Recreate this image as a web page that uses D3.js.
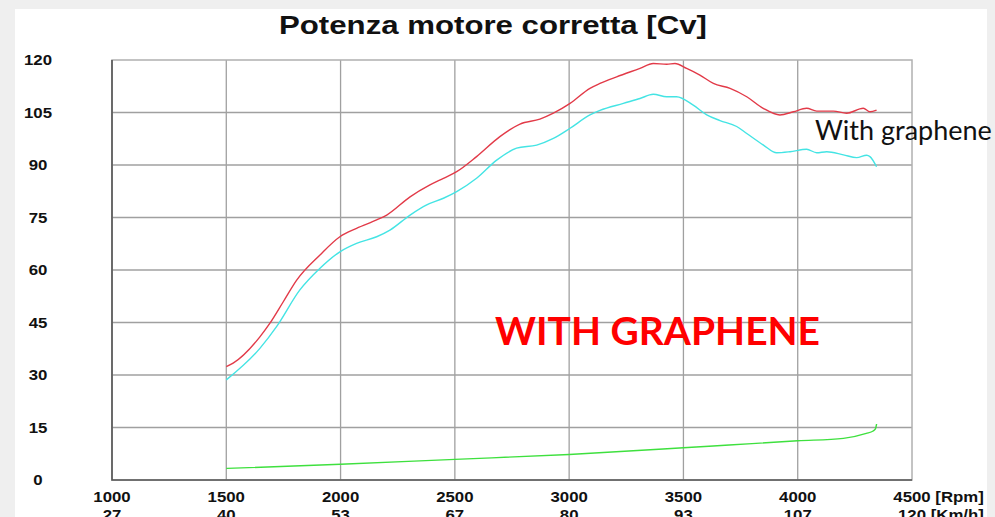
<!DOCTYPE html>
<html>
<head>
<meta charset="utf-8">
<script src="https://cdn.jsdelivr.net/npm/d3@7"></script>
<style>
  body { margin: 0; background: #efefef; }
  svg { display: block; }
</style>
</head>
<body>
<div class="chart"></div>
<script>
var rpmTicks = [1000, 1500, 2000, 2500, 3000, 3500, 4000, 4500];
var kmhTicks = [27, 40, 53, 67, 80, 93, 107, 120];
var cvTicks = [0, 15, 30, 45, 60, 75, 90, 105, 120];

// red curve (with graphene)
var redRpm = [1500, 1530, 1647, 1691, 1750, 1808, 1910, 1997, 2070, 2158, 2202, 2304, 2391, 2450, 2508, 2595, 2697, 2785, 2872, 2931, 3004, 3091, 3135, 3208, 3310, 3368, 3427, 3463, 3514, 3572, 3631, 3704, 3777, 3849, 3922, 3981, 4039, 4083, 4156, 4214, 4287, 4316, 4345];
var redCv = [32.4, 33.4, 40.9, 44.8, 51.0, 57.1, 64.3, 69.5, 71.9, 74.3, 75.7, 80.9, 84.3, 86.2, 88.1, 92.4, 98.1, 101.7, 103.1, 104.8, 107.6, 111.9, 113.3, 115.2, 117.6, 119.0, 118.8, 119.0, 117.6, 115.7, 113.3, 111.9, 109.5, 106.2, 104.3, 105.2, 106.2, 105.4, 105.4, 104.8, 106.2, 105.2, 105.7];

// cyan curve
var cyanRpm = [1500, 1647, 1720, 1822, 1910, 1997, 2070, 2158, 2216, 2304, 2377, 2450, 2508, 2595, 2683, 2770, 2858, 2931, 3004, 3091, 3135, 3237, 3310, 3368, 3427, 3470, 3543, 3602, 3660, 3733, 3777, 3850, 3908, 3966, 4039, 4083, 4127, 4200, 4258, 4302, 4316, 4345];
var cyanCv = [28.6, 37.6, 43.8, 54.3, 60.5, 65.2, 67.6, 69.5, 71.4, 75.7, 78.6, 80.5, 82.4, 86.2, 91.4, 94.8, 95.7, 97.6, 100.5, 104.3, 105.6, 107.6, 109.0, 110.2, 109.5, 109.5, 107.1, 104.3, 102.7, 101.0, 99.0, 95.7, 93.5, 93.8, 94.5, 93.5, 93.8, 92.9, 92.1, 92.8, 92.4, 89.5];

// green curve (losses)
var greenRpm = [1500, 2000, 2500, 3000, 3500, 3700, 4000, 4200, 4300, 4330, 4340, 4345];
var greenCv = [3.3, 4.5, 5.9, 7.3, 9.2, 10.0, 11.2, 11.9, 13.3, 14.0, 14.6, 16.0];

var width = 995, height = 517;

var svg = d3.select("div.chart").append("svg")
  .attr("width", width)
  .attr("height", height);

// slide panel
svg.append("rect")
  .attr("x", 15).attr("y", 9)
  .attr("width", 972).attr("height", height - 9)
  .attr("fill", "#fff");

var x = d3.scaleLinear().domain([1000, 4500]).range([112, 912]);
var y = d3.scaleLinear().domain([0, 120]).range([480, 60]);

var grid = svg.append("g").style("stroke", "#a0a0a0").style("stroke-width", 1.3);
grid.selectAll("line.v")
  .data(rpmTicks.slice(1, -1))
  .enter().append("line")
  .attr("x1", d => x(d)).attr("x2", d => x(d))
  .attr("y1", y(0)).attr("y2", y(120));
grid.selectAll("line.h")
  .data(cvTicks.slice(1, -1))
  .enter().append("line")
  .attr("x1", x(1000)).attr("x2", x(4500))
  .attr("y1", d => y(d)).attr("y2", d => y(d));

// frame: top/right light, left/bottom dark
svg.append("rect")
  .attr("x", x(1000)).attr("y", y(120))
  .attr("width", x(4500) - x(1000)).attr("height", y(0) - y(120))
  .attr("fill", "none").attr("stroke", "#b0b0b0").attr("stroke-width", 1.5);
svg.append("path")
  .attr("d", "M" + x(1000) + "," + y(120) + "V" + y(0) + "H" + x(4500))
  .attr("fill", "none").attr("stroke", "#555").attr("stroke-width", 1.6);

function curve(xs, ys) {
  return d3.line()
    .x(function(d, i) { return x(xs[i]); })
    .y(function(d, i) { return y(ys[i]); })
    .curve(d3.curveMonotoneX)(ys);
}

svg.append("path").attr("d", curve(greenRpm, greenCv))
  .attr("fill", "none").attr("stroke", "#3ee03e").attr("stroke-width", 1.4);
svg.append("path").attr("d", curve(cyanRpm, cyanCv))
  .attr("fill", "none").attr("stroke", "#44e4e4").attr("stroke-width", 1.4);
svg.append("path").attr("d", curve(redRpm, redCv))
  .attr("fill", "none").attr("stroke", "#e23a48").attr("stroke-width", 1.4);

// labels use a horizontally stretched Arial like the original
var sx = 1.2;
function stretched(g, px, py, txt, anchor) {
  return g.append("text")
    .attr("transform", "translate(" + px + "," + py + ") scale(" + sx + ",1)")
    .attr("text-anchor", anchor || "middle")
    .text(txt);
}

var labels = svg.append("g")
  .style("font-family", "'Liberation Sans', Arial, sans-serif")
  .style("font-weight", "bold")
  .style("font-size", "14px")
  .style("fill", "#111");

cvTicks.forEach(function(v) { stretched(labels, 38, y(v) + 5, v); });

// second row is cut by the bottom edge, as in the original screenshot
rpmTicks.forEach(function(v, i) {
  if (i < rpmTicks.length - 1) {
    stretched(labels, x(v), 502, v);
    stretched(labels, x(v), 520, kmhTicks[i]);
  } else {
    var t = stretched(labels, x(v), 502, v);
    var w = t.node().getComputedTextLength() * sx;
    t.remove();
    stretched(labels, x(v) - w / 2, 502, v + " [Rpm]", "start");
    var t2 = stretched(labels, x(v), 520, kmhTicks[i]);
    var w2 = t2.node().getComputedTextLength() * sx;
    t2.remove();
    stretched(labels, x(v) - w2 / 2, 520, kmhTicks[i] + " [Km/h]", "start");
  }
});

stretched(svg, 493, 34, "Potenza motore corretta [Cv]")
  .style("font-family", "'Liberation Sans', Arial, sans-serif")
  .style("font-weight", "bold")
  .style("font-size", "26px")
  .style("fill", "#111");

// slide annotations
svg.append("text")
  .attr("x", 495).attr("y", 345)
  .style("font-family", "Lato, 'Open Sans', sans-serif")
  .style("font-weight", "bold")
  .style("font-size", "39px")
  .style("fill", "#ff0000")
  .text("WITH GRAPHENE");

svg.append("text")
  .attr("x", 815).attr("y", 140)
  .style("font-family", "Lato, 'Open Sans', sans-serif")
  .style("font-size", "27px")
  .style("fill", "#111")
  .text("With graphene");
</script>
</body>
</html>
